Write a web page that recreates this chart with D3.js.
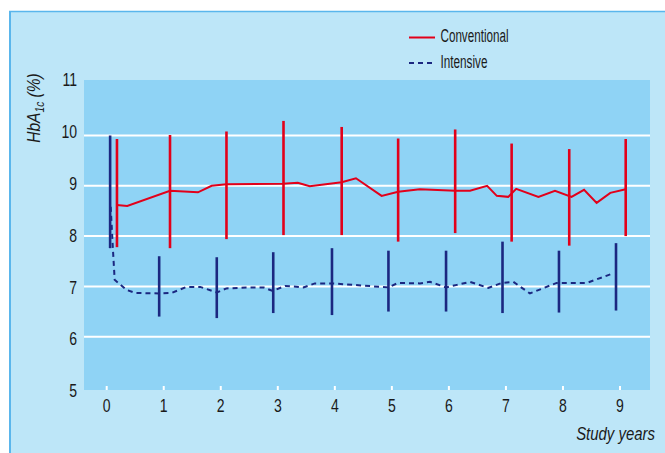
<!DOCTYPE html>
<html>
<head>
<meta charset="utf-8">
<script src="https://cdn.jsdelivr.net/npm/d3@7"></script>
<style>
  body { margin: 0; background: #fff; }
  svg text { font-family: "Liberation Sans Narrow", "Arial Narrow", "Liberation Sans", sans-serif; fill: #1a1a1a; }
</style>
</head>
<body>
<svg id="chart" width="665" height="453"></svg>
<script>
// values (years, HbA1c %)
var yTicks = [5, 6, 7, 8, 9, 10, 11];
var xTicks = [0, 1, 2, 3, 4, 5, 6, 7, 8, 9];

var convLine = [
  [0.175, 8.62], [0.36, 8.60], [1.11, 8.90], [1.60, 8.87], [1.84, 9.00], [2.10, 9.03],
  [3.09, 9.04], [3.35, 9.06], [3.56, 8.99], [4.12, 9.07], [4.37, 9.15], [4.82, 8.80],
  [5.11, 8.88], [5.49, 8.93], [6.11, 8.90], [6.37, 8.90], [6.67, 9.00], [6.84, 8.80],
  [7.04, 8.78], [7.18, 8.94], [7.57, 8.78], [7.86, 8.90], [8.15, 8.78], [8.37, 8.92],
  [8.59, 8.66], [8.83, 8.86], [9.10, 8.93]
];
var convBars = [
  [0.18, 7.78, 9.93], [1.11, 7.76, 10.01], [2.10, 7.94, 10.08], [3.10, 8.02, 10.29],
  [4.12, 8.02, 10.17], [5.11, 7.89, 9.94], [6.11, 8.06, 10.12], [7.10, 7.89, 9.84],
  [8.11, 7.81, 9.73], [9.10, 8.00, 9.93]
];

var intLine = [
  [0.07, 8.58], [0.11, 7.72], [0.14, 7.13], [0.35, 6.93], [0.50, 6.87], [0.92, 6.86],
  [1.14, 6.87], [1.40, 6.99], [1.64, 6.99], [1.93, 6.88], [2.10, 6.96], [2.51, 6.98],
  [2.75, 6.98], [2.91, 6.91], [3.13, 7.01], [3.45, 6.98], [3.65, 7.06], [3.95, 7.06],
  [4.32, 7.03], [4.94, 6.98], [5.11, 7.07], [5.49, 7.06], [5.67, 7.09], [5.95, 6.98],
  [6.14, 7.03], [6.37, 7.09], [6.69, 6.97], [6.93, 7.07], [7.13, 7.09], [7.42, 6.86],
  [7.89, 7.07], [8.42, 7.07], [8.88, 7.26]
];
var intBars = [
  [0.06, 7.76, 10.00], [0.92, 6.40, 7.60], [1.93, 6.37, 7.58], [2.92, 6.47, 7.68],
  [3.95, 6.43, 7.76], [4.94, 6.50, 7.71], [5.95, 6.50, 7.71], [6.94, 6.47, 7.89],
  [7.93, 6.48, 7.71], [8.93, 6.52, 7.86]
];

var red = '#e2001a', navy = '#1b2780';

var svg = d3.select('#chart');

// outer panel
svg.append('rect').attr('x', 9).attr('y', 11).attr('width', 656).attr('height', 442).attr('fill', '#bde6f8');
svg.append('line').attr('x1', 9).attr('x2', 665).attr('y1', 11.5).attr('y2', 11.5).attr('stroke', '#5ab6ec').attr('stroke-width', 1.5);
svg.append('line').attr('x1', 10).attr('x2', 10).attr('y1', 11).attr('y2', 453).attr('stroke', '#5ab6ec').attr('stroke-width', 2);

var x = d3.scaleLinear().domain([0, 9]).range([106.7, 620]);
var y = d3.scaleLinear().domain([5, 11]).range([387, 85.2]);
// labels sit a little wider apart than the gridlines
var yLab = d3.scaleLinear().domain([5, 11]).range([391, 80]);

// plot area
svg.append('rect').attr('x', 84).attr('y', 80).attr('width', 566).attr('height', 310).attr('fill', '#8fd3f5');

svg.append('g').selectAll('line')
  .data(yTicks.filter(function (d) { return d > 5 && d < 11; }))
  .enter().append('line')
  .attr('x1', 84).attr('x2', 650)
  .attr('y1', function (d) { return y(d); }).attr('y2', function (d) { return y(d); })
  .attr('stroke', '#fff').attr('stroke-width', 2);

svg.append('g').selectAll('line')
  .data(xTicks)
  .enter().append('line')
  .attr('x1', function (d) { return x(d); }).attr('x2', function (d) { return x(d); })
  .attr('y1', 386).attr('y2', 390)
  .attr('stroke', '#fff').attr('stroke-width', 2);

// tick labels (condensed)
svg.append('g').selectAll('text')
  .data(yTicks)
  .enter().append('text')
  .attr('transform', function (d) { return 'translate(77,' + (yLab(d) + 6.3) + ') scale(0.78,1)'; })
  .attr('text-anchor', 'end').attr('font-size', 18)
  .text(function (d) { return d; });

svg.append('g').selectAll('text')
  .data(xTicks)
  .enter().append('text')
  .attr('transform', function (d) { return 'translate(' + x(d) + ',411.5) scale(0.78,1)'; })
  .attr('text-anchor', 'middle').attr('font-size', 18)
  .text(function (d) { return d; });

var line = d3.line()
  .x(function (d) { return x(d[0]); })
  .y(function (d) { return y(d[1]); });

// error bars
function bars(data, color) {
  svg.append('g').selectAll('line')
    .data(data)
    .enter().append('line')
    .attr('x1', function (d) { return x(d[0]); }).attr('x2', function (d) { return x(d[0]); })
    .attr('y1', function (d) { return y(d[1]); }).attr('y2', function (d) { return y(d[2]); })
    .attr('stroke', color).attr('stroke-width', 2.6);
}
bars(intBars, navy);
bars(convBars, red);

svg.append('path').datum(intLine).attr('d', line)
  .attr('fill', 'none').attr('stroke', navy).attr('stroke-width', 2)
  .attr('stroke-dasharray', '5,4');
svg.append('path').datum(convLine).attr('d', line)
  .attr('fill', 'none').attr('stroke', red).attr('stroke-width', 2);

// legend
svg.append('line').attr('x1', 409).attr('x2', 435).attr('y1', 37.5).attr('y2', 37.5)
  .attr('stroke', red).attr('stroke-width', 2);
svg.append('text').attr('x', 440.5).attr('y', 41.5).attr('font-size', 18)
  .attr('textLength', 68).attr('lengthAdjust', 'spacingAndGlyphs').text('Conventional');
svg.append('line').attr('x1', 409).attr('x2', 435).attr('y1', 63).attr('y2', 63)
  .attr('stroke', navy).attr('stroke-width', 2).attr('stroke-dasharray', '5,4');
svg.append('text').attr('x', 440.5).attr('y', 68).attr('font-size', 18)
  .attr('textLength', 47).attr('lengthAdjust', 'spacingAndGlyphs').text('Intensive');

// axis titles
var yt = svg.append('text')
  .attr('transform', 'translate(40,108) rotate(-90) scale(0.86,1)')
  .attr('text-anchor', 'middle').attr('font-size', 18).attr('font-style', 'italic');
yt.append('tspan').text('HbA');
yt.append('tspan').attr('font-size', 12).attr('dy', 4).text('1c');
yt.append('tspan').attr('dy', -4).text(' (%)');

svg.append('text').attr('transform', 'translate(655,440) scale(0.83,1)')
  .attr('text-anchor', 'end').attr('font-size', 18).attr('font-style', 'italic')
  .text('Study years');
</script>
</body>
</html>
